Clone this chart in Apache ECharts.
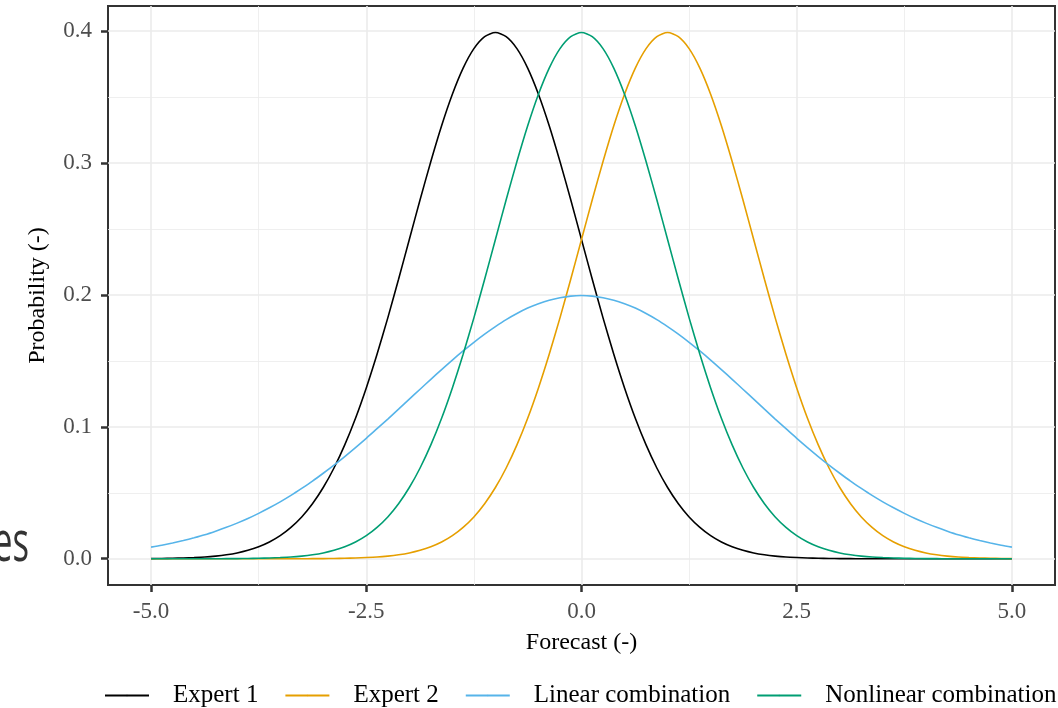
<!DOCTYPE html>
<html>
<head>
<meta charset="utf-8">
<title>Forecast densities</title>
<script src="https://cdn.jsdelivr.net/npm/echarts@6.0.0/dist/echarts.min.js"></script>
<style>
    html, body { margin: 0; padding: 0; background: #fff; }
    #main { width: 1058px; height: 708px; }
</style>
</head>
<body>
<div id="main"></div>
<script>
// x positions (Forecast), step 0.125 from -5 to 5
var forecast = [-5, -4.875, -4.75, -4.625, -4.5, -4.375, -4.25, -4.125, -4, -3.875, -3.75, -3.625, -3.5, -3.375, -3.25, -3.125,
    -3, -2.875, -2.75, -2.625, -2.5, -2.375, -2.25, -2.125, -2, -1.875, -1.75, -1.625, -1.5, -1.375, -1.25, -1.125,
    -1, -0.875, -0.75, -0.625, -0.5, -0.375, -0.25, -0.125, 0, 0.125, 0.25, 0.375, 0.5, 0.625, 0.75, 0.875,
    1, 1.125, 1.25, 1.375, 1.5, 1.625, 1.75, 1.875, 2, 2.125, 2.25, 2.375, 2.5, 2.625, 2.75, 2.875,
    3, 3.125, 3.25, 3.375, 3.5, 3.625, 3.75, 3.875, 4, 4.125, 4.25, 4.375, 4.5, 4.625, 4.75, 4.875, 5];

var expert1 = [0.0001, 0.0002, 0.0004, 0.0006, 0.0009, 0.0013, 0.0020, 0.0030, 0.0044, 0.0064, 0.0091, 0.0127, 0.0175, 0.0238, 0.0317, 0.0417,
    0.0540, 0.0688, 0.0863, 0.1065, 0.1295, 0.1550, 0.1826, 0.2119, 0.2420, 0.2721, 0.3011, 0.3282, 0.3521, 0.3719, 0.3867, 0.3958,
    0.3989, 0.3958, 0.3867, 0.3719, 0.3521, 0.3282, 0.3011, 0.2721, 0.2420, 0.2119, 0.1826, 0.1550, 0.1295, 0.1065, 0.0863, 0.0688,
    0.0540, 0.0417, 0.0317, 0.0238, 0.0175, 0.0127, 0.0091, 0.0064, 0.0044, 0.0030, 0.0020, 0.0013, 0.0009, 0.0006, 0.0004, 0.0002,
    0.0001, 0.0001, 0, 0, 0, 0, 0, 0, 0, 0, 0, 0, 0, 0, 0, 0, 0];

var expert2 = [0, 0, 0, 0, 0, 0, 0, 0, 0, 0, 0, 0, 0, 0, 0, 0.0001,
    0.0001, 0.0002, 0.0004, 0.0006, 0.0009, 0.0013, 0.0020, 0.0030, 0.0044, 0.0064, 0.0091, 0.0127, 0.0175, 0.0238, 0.0317, 0.0417,
    0.0540, 0.0688, 0.0863, 0.1065, 0.1295, 0.1550, 0.1826, 0.2119, 0.2420, 0.2721, 0.3011, 0.3282, 0.3521, 0.3719, 0.3867, 0.3958,
    0.3989, 0.3958, 0.3867, 0.3719, 0.3521, 0.3282, 0.3011, 0.2721, 0.2420, 0.2119, 0.1826, 0.1550, 0.1295, 0.1065, 0.0863, 0.0688,
    0.0540, 0.0417, 0.0317, 0.0238, 0.0175, 0.0127, 0.0091, 0.0064, 0.0044, 0.0030, 0.0020, 0.0013, 0.0009, 0.0006, 0.0004, 0.0002, 0.0001];

var linearComb = [0.0088, 0.0102, 0.0119, 0.0138, 0.0159, 0.0182, 0.0209, 0.0238, 0.0270, 0.0305, 0.0344, 0.0386, 0.0431, 0.0480, 0.0533, 0.0588,
    0.0648, 0.0710, 0.0775, 0.0843, 0.0913, 0.0986, 0.1059, 0.1134, 0.1210, 0.1285, 0.1360, 0.1434, 0.1506, 0.1575, 0.1641, 0.1703,
    0.1760, 0.1813, 0.1859, 0.1900, 0.1933, 0.1960, 0.1979, 0.1991, 0.1995, 0.1991, 0.1979, 0.1960, 0.1933, 0.1900, 0.1859, 0.1813,
    0.1760, 0.1703, 0.1641, 0.1575, 0.1506, 0.1434, 0.1360, 0.1285, 0.1210, 0.1134, 0.1059, 0.0986, 0.0913, 0.0843, 0.0775, 0.0710,
    0.0648, 0.0588, 0.0533, 0.0480, 0.0431, 0.0386, 0.0344, 0.0305, 0.0270, 0.0238, 0.0209, 0.0182, 0.0159, 0.0138, 0.0119, 0.0102, 0.0088];

var nonlinearComb = [0, 0, 0, 0, 0, 0, 0, 0.0001, 0.0001, 0.0002, 0.0004, 0.0006, 0.0009, 0.0013, 0.0020, 0.0030,
    0.0044, 0.0064, 0.0091, 0.0127, 0.0175, 0.0238, 0.0317, 0.0417, 0.0540, 0.0688, 0.0863, 0.1065, 0.1295, 0.1550, 0.1826, 0.2119,
    0.2420, 0.2721, 0.3011, 0.3282, 0.3521, 0.3719, 0.3867, 0.3958, 0.3989, 0.3958, 0.3867, 0.3719, 0.3521, 0.3282, 0.3011, 0.2721,
    0.2420, 0.2119, 0.1826, 0.1550, 0.1295, 0.1065, 0.0863, 0.0688, 0.0540, 0.0417, 0.0317, 0.0238, 0.0175, 0.0127, 0.0091, 0.0064,
    0.0044, 0.0030, 0.0020, 0.0013, 0.0009, 0.0006, 0.0004, 0.0002, 0.0001, 0.0001, 0, 0, 0, 0, 0, 0, 0];

var xTicks = [-5, -2.5, 0, 2.5, 5];
var xMinorTicks = [-3.75, -1.25, 1.25, 3.75];
var yTicks = [0, 0.1, 0.2, 0.3, 0.4];
var yMinorTicks = [0.05, 0.15, 0.25, 0.35];

var seriesNames = ['Expert 1', 'Expert 2', 'Linear combination', 'Nonlinear combination'];
var seriesColors = ['#000000', '#E69F00', '#56B4E9', '#009E73'];

function toPairs(values){
    return forecast.map(function(x, i){ return [x, values[i]]; });
}

var serif = '"Liberation Serif", "Times New Roman", serif';

var myChart = echarts.init(document.getElementById('main'));

var allValues = [expert1, expert2, linearComb, nonlinearComb];
var series = allValues.map(function(values, i){
    return {
        name: seriesNames[i],
        type: 'line',
        xAxisIndex: 0,
        yAxisIndex: 0,
        data: toPairs(values),
        symbol: 'none',
        smooth: 0.25,
        lineStyle: { color: seriesColors[i], width: 1.6 },
        itemStyle: { color: seriesColors[i] },
        z: 3 + i
    };
});

var option = {
    backgroundColor: '#ffffff',
    animation: false,
    grid: {
        left: 108, right: 3, top: 6, bottom: 123,
        show: true,
        borderColor: '#333333',
        borderWidth: 2,
        outerBoundsMode: 'none'
    },
    // 左侧残留文字
    graphic: [{
        type: 'text',
        x: 29,
        y: 573,
        scaleX: 0.62,
        style: {
            text: 'es',
            fontFamily: '"Open Sans", "Noto Sans", sans-serif',
            fontSize: 56,
            fill: '#333333',
            align: 'right',
            verticalAlign: 'bottom'
        }
    }],
    legend: {
        data: seriesNames,
        left: 104,
        top: 683,
        width: 954,
        padding: 0,
        itemWidth: 44,
        itemHeight: 2,
        itemGap: 26,
        textStyle: {
            fontFamily: serif,
            fontSize: 25,
            color: '#000000',
            padding: [0, 0, 0, 19]
        }
    },
    xAxis: [{
        type: 'value',
        min: -5.5,
        max: 5.5,
        name: 'Forecast (-)',
        nameLocation: 'middle',
        nameGap: 46,
        nameTextStyle: { fontFamily: serif, fontSize: 24, color: '#000000' },
        axisLine: { show: false, onZero: false },
        axisTick: { show: true, length: 7, lineStyle: { color: '#333333', width: 2.5 }, customValues: xTicks },
        axisLabel: {
            customValues: xTicks,
            margin: 15,
            fontFamily: serif, fontSize: 23, color: '#4D4D4D',
            formatter: function(v){ return v.toFixed(1); }
        },
        splitLine: { show: true, lineStyle: { color: '#EBEBEB', width: 1.6 } }
    }, {
        type: 'value',
        min: -5.5,
        max: 5.5,
        axisLine: { show: false, onZero: false },
        axisTick: { show: false, customValues: xMinorTicks },
        axisLabel: { show: false, customValues: xMinorTicks },
        splitLine: { show: true, lineStyle: { color: '#EBEBEB', width: 0.8 } }
    }],
    yAxis: [{
        type: 'value',
        min: -0.0199,
        max: 0.419,
        name: 'Probability (-)',
        nameLocation: 'middle',
        nameGap: 58,
        nameTextStyle: { fontFamily: serif, fontSize: 24, color: '#000000' },
        axisLine: { show: false, onZero: false },
        axisTick: { show: true, length: 7, lineStyle: { color: '#333333', width: 2.5 }, customValues: yTicks },
        axisLabel: {
            customValues: yTicks,
            margin: 16,
            fontFamily: serif, fontSize: 23, color: '#4D4D4D',
            formatter: function(v){ return v.toFixed(1); }
        },
        splitLine: { show: true, lineStyle: { color: '#EBEBEB', width: 1.6 } }
    }, {
        type: 'value',
        min: -0.0199,
        max: 0.419,
        axisLine: { show: false, onZero: false },
        axisTick: { show: false, customValues: yMinorTicks },
        axisLabel: { show: false, customValues: yMinorTicks },
        splitLine: { show: true, lineStyle: { color: '#EBEBEB', width: 0.8 } }
    }],
    series: series
};
myChart.setOption(option);
</script>
</body>
</html>
